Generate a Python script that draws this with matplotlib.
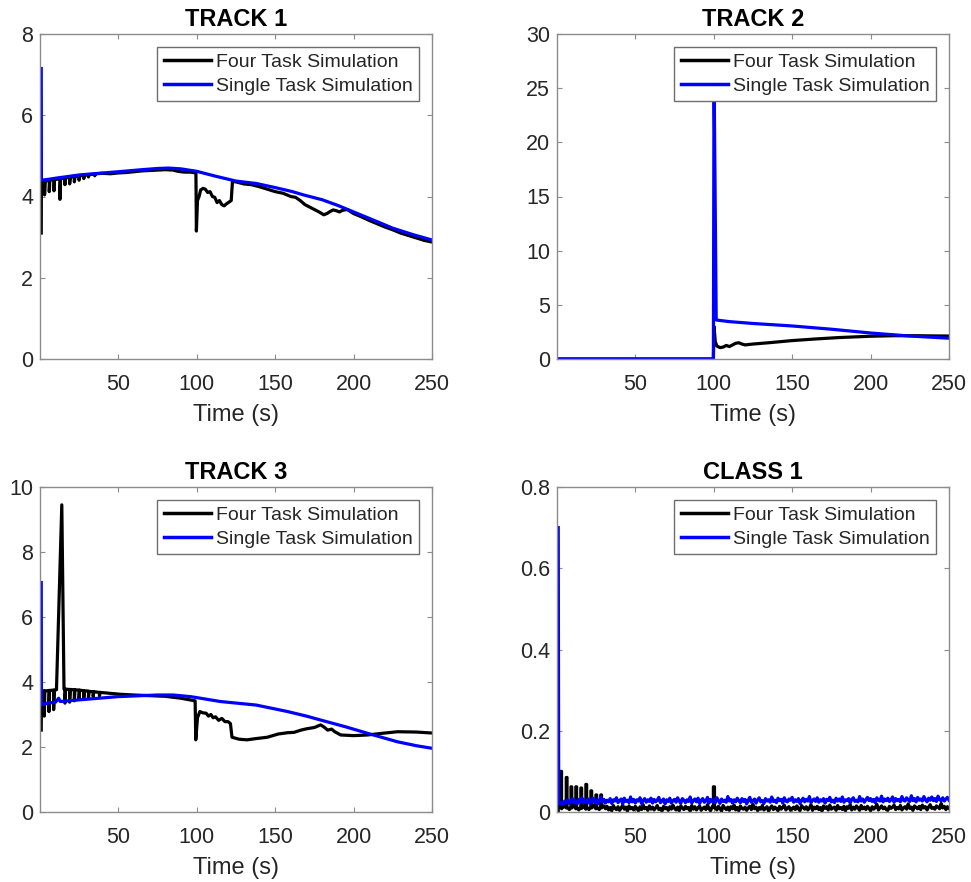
import numpy as np
import matplotlib
matplotlib.use("Agg")
import matplotlib.pyplot as plt

plt.rcParams['font.family'] = ['Liberation Sans', 'DejaVu Sans']

# ---------------- DATA ----------------
series_names = ["Four Task Simulation", "Single Task Simulation"]
titles = ["TRACK 1", "TRACK 2", "TRACK 3", "CLASS 1"]
x_ticks = [50, 100, 150, 200, 250]
y_ticks = [[0, 2, 4, 6, 8], [0, 5, 10, 15, 20, 25, 30], [0, 2, 4, 6, 8, 10], [0, 0.2, 0.4, 0.6, 0.8]]
y_ticklabels = [["0", "2", "4", "6", "8"], ["0", "5", "10", "15", "20", "25", "30"],
                ["0", "2", "4", "6", "8", "10"], ["0", "0.2", "0.4", "0.6", "0.8"]]

# TRACK 1
t1_single = [0.9, 1.0, 5, 10, 25, 50, 65, 75, 82, 90, 100, 112, 125, 138, 150, 161, 168, 180, 190, 200, 212, 225, 238, 250]
y1_single = [7.15, 4.40, 4.42, 4.45, 4.53, 4.61, 4.66, 4.69, 4.70, 4.68, 4.62, 4.50, 4.38, 4.32, 4.22, 4.12, 4.04, 3.92, 3.78, 3.62, 3.43, 3.22, 3.06, 2.93]
t1_four = [0.9, 1.0, 3.0, 3.0, 3.4, 6.0, 6.0, 6.4, 9.0, 9.0, 9.4, 12.8, 12.8, 13.2, 16, 16, 16.4, 19, 19, 19.4,
           22, 22, 22.4, 25, 25, 25.4, 28, 28, 28.4, 31, 31, 31.4, 35, 35, 35.4, 40, 45, 50, 55, 60, 65, 70, 75, 80,
           85, 88, 92, 96, 99.5, 99.8, 100.5, 101.5, 102.5, 104, 105.5, 107, 108.5, 110, 111.5, 113, 114.5, 116,
           117.5, 119, 120.5, 122, 122.8, 125, 130, 135, 140, 145, 150, 155, 160, 163, 166, 169, 172, 175, 178,
           181, 183, 185, 187, 189, 191, 193, 196, 200, 205, 210, 215, 220, 225, 230, 235, 240, 245, 250]
y1_four = [3.10, 4.35, 4.38, 4.04, 4.38, 4.40, 4.12, 4.40, 4.42, 4.14, 4.42, 4.43, 3.93, 4.44, 4.45, 4.29, 4.46, 4.47, 4.31, 4.48,
           4.48, 4.36, 4.49, 4.50, 4.40, 4.51, 4.52, 4.44, 4.53, 4.53, 4.48, 4.54, 4.55, 4.51, 4.56, 4.57, 4.56, 4.58, 4.59, 4.61, 4.63, 4.64, 4.65, 4.66,
           4.65, 4.62, 4.60, 4.60, 4.58, 3.15, 3.90, 4.00, 4.16, 4.20, 4.18, 4.10, 4.12, 4.00, 3.98, 3.85, 3.90, 3.80,
           3.77, 3.82, 3.86, 3.90, 4.37, 4.36, 4.31, 4.29, 4.24, 4.18, 4.12, 4.08, 4.00, 3.98, 3.90, 3.80, 3.74, 3.68, 3.62,
           3.55, 3.58, 3.63, 3.67, 3.65, 3.62, 3.66, 3.68, 3.58, 3.50, 3.41, 3.33, 3.25, 3.18, 3.10, 3.04, 2.98, 2.92, 2.88]

# TRACK 2
t2_single = [0.1, 99.8, 100.2, 101.6, 110, 125, 150, 175, 200, 225, 250]
y2_single = [0.0, 0.0, 27.0, 3.60, 3.45, 3.28, 3.05, 2.75, 2.40, 2.12, 1.92]
t2_four = [0.1, 99.8, 100.2, 101, 102, 104, 106, 108, 110, 112, 114, 116, 118, 120, 125, 135, 150, 165, 180, 200, 215, 230, 240, 250]
y2_four = [0.0, 0.0, 3.0, 1.60, 1.20, 1.05, 1.10, 1.25, 1.15, 1.30, 1.45, 1.50, 1.38, 1.30, 1.38, 1.50, 1.70, 1.85, 1.98, 2.10, 2.15, 2.15, 2.13, 2.12]

# TRACK 3
t3_single = [0.9, 1.0, 5, 10, 12, 13, 25, 50, 65, 75, 85, 96, 100, 115, 138, 158, 170, 179, 195, 209, 228, 240, 250]
y3_single = [7.06, 3.30, 3.35, 3.38, 3.50, 3.40, 3.45, 3.55, 3.58, 3.60, 3.60, 3.55, 3.52, 3.40, 3.29, 3.09, 2.95, 2.83, 2.62, 2.42, 2.16, 2.04, 1.96]
t3_four = [0.9, 1.0, 2.8, 2.8, 3.2, 5.8, 5.8, 6.2, 8.8, 8.8, 9.2, 10.6, 14.0, 15.4, 16, 16, 16.4, 19, 19, 19.4,
           22, 22, 22.4, 25, 25, 25.4, 28, 28, 28.4, 31, 31, 31.4, 34, 34, 34.4, 38, 38, 38.4, 45, 52, 60, 70, 80, 90,
           99, 99.4, 100.5, 102, 104, 106, 107.5, 109, 110.5, 112, 114, 116, 118, 120, 121.5, 122.5, 127, 132, 138,
           145, 152, 158, 162, 166.5, 170, 175, 179, 181, 183.5, 186, 188, 191.8, 200, 209, 218, 228, 240, 250]
y3_four = [2.52, 3.72, 3.73, 2.95, 3.72, 3.74, 3.09, 3.74, 3.75, 3.15, 3.75, 3.76, 9.45, 3.78, 3.78, 3.35, 3.78, 3.77, 3.38, 3.77,
           3.76, 3.42, 3.76, 3.75, 3.46, 3.75, 3.73, 3.50, 3.73, 3.72, 3.53, 3.71, 3.70, 3.55, 3.70, 3.68, 3.57, 3.68, 3.65, 3.62, 3.60, 3.58, 3.56, 3.50,
           3.42, 2.22, 2.90, 3.09, 3.05, 3.04, 2.95, 3.00, 2.90, 2.93, 2.82, 2.88, 2.78, 2.78, 2.72, 2.30, 2.24, 2.22, 2.26,
           2.30, 2.40, 2.44, 2.45, 2.52, 2.56, 2.60, 2.68, 2.62, 2.52, 2.55, 2.47, 2.37, 2.35, 2.37, 2.42, 2.47, 2.46, 2.43]

# CLASS 1 (values in thousandths)
c1_single_start_t = [0.9, 1.2]
c1_single_start_milli = [700, 20]
c1_single_t = list(range(2, 251))
c1_single_milli = [
    20, 24, 19, 27, 22, 30, 21, 26, 33, 23,
    28, 20, 31, 25, 35, 22, 29, 24, 32, 21,
    27, 34, 23, 30, 20, 28, 36, 24, 31, 22,
    29, 25, 33, 21, 30, 27, 35, 23, 28, 32,
    20, 34, 26, 29, 23, 37, 25, 31, 22, 30,
    27, 35, 21, 28, 33, 24, 30, 26, 34, 22,
    31, 25, 29, 36, 23, 27, 32, 20, 30, 26,
    34, 22, 28, 31, 24, 35, 27, 21, 33, 29,
    23, 30, 26, 37, 22, 28, 32, 25, 34, 21,
    29, 33, 24, 27, 36, 22, 31, 26, 30, 23,
    35, 28, 21, 32, 26, 29, 24, 38, 27, 31,
    22, 30, 25, 34, 28, 23, 33, 26, 31, 20,
    29, 36, 24, 27, 32, 22, 30, 35, 25, 28,
    21, 33, 27, 30, 24, 37, 26, 29, 23, 34,
    28, 31, 22, 35, 27, 25, 32, 29, 36, 24,
    30, 26, 33, 21, 28, 34, 25, 31, 27, 38,
    23, 29, 32, 26, 35, 24, 30, 27, 33, 22,
    31, 28, 36, 25, 29, 23, 34, 27, 32, 26,
    37, 24, 30, 28, 33, 22, 31, 35, 26, 29,
    25, 38, 27, 32, 24, 30, 36, 28, 33, 26,
    31, 23, 35, 29, 27, 39, 25, 32, 28, 34,
    26, 30, 37, 24, 33, 28, 31, 25, 38, 29,
    27, 35, 30, 26, 40, 28, 33, 25, 36, 29,
    32, 27, 38, 30, 25, 34, 29, 37, 28, 33,
    26, 39, 30, 28, 35, 27, 32, 36, 29]
c1_four_early_t = [0.9, 1.0, 1.5, 2.5, 2.5, 3.0, 3.0, 4.5, 6.0, 6.0, 6.5, 6.5, 8, 9.0, 9.0, 9.5, 9.5, 11, 12.1, 12.1,
                   12.6, 12.6, 14, 15.3, 15.3, 15.8, 15.8, 17, 18.5, 18.5, 19, 19, 20.5, 21.7, 21.7, 22.2, 22.2,
                   23.5, 24.9, 24.9, 25.4, 25.4, 27, 28, 28, 28.5, 28.5, 30]
c1_four_early_milli = [0, 50, 12, 15, 100, 100, 8, 15, 10, 85, 85, 12, 6, 14, 62, 62, 10, 16, 8, 62,
                       62, 12, 5, 13, 59, 59, 9, 15, 7, 68, 68, 12, 6, 14, 52, 52, 10,
                       16, 8, 42, 42, 12, 6, 13, 42, 42, 10, 15]
c1_four_a_t = list(range(31, 100))
c1_four_a_milli = [
    8, 14, 5, 11, 3, 16, 9, 6, 13, 4,
    10, 17, 7, 12, 2, 15, 8, 11, 5, 14,
    9, 3, 13, 6, 18, 8, 11, 4, 15, 7,
    12, 5, 10, 16, 6, 9, 2, 14, 8, 11,
    4, 13, 7, 17, 9, 5, 12, 3, 15, 10,
    6, 14, 8, 11, 2, 16, 7, 13, 5, 10,
    15, 4, 9, 12, 6, 18, 8, 3, 13]
c1_four_spike_t = [99.8, 99.8, 100.5, 100.5]
c1_four_spike_milli = [12, 62, 62, 10]
c1_four_b_t = list(range(101, 251))
c1_four_b_milli = [
    11, 5, 14, 9, 2, 16, 10, 6, 12, 4,
    13, 8, 17, 5, 11, 3, 15, 9, 7, 12,
    4, 10, 14, 6, 19, 8, 12, 3, 11, 7,
    16, 5, 9, 13, 2, 10, 15, 6, 12, 8,
    3, 14, 7, 11, 17, 5, 10, 13, 4, 9,
    12, 6, 15, 8, 3, 16, 11, 7, 13, 5,
    10, 18, 4, 12, 8, 14, 6, 11, 2, 15,
    9, 13, 5, 17, 7, 10, 12, 4, 16, 8,
    11, 6, 14, 3, 13, 9, 18, 5, 12, 7,
    15, 10, 4, 16, 8, 12, 6, 14, 9, 3,
    13, 7, 11, 19, 5, 10, 15, 8, 12, 6,
    4, 14, 9, 12, 17, 6, 11, 8, 16, 5,
    10, 13, 7, 20, 9, 12, 4, 15, 11, 8,
    14, 6, 17, 10, 13, 5, 12, 18, 9, 11,
    7, 15, 12, 8, 21, 10, 14, 6, 13, 9]

c1_four_t = c1_four_early_t + c1_four_a_t + c1_four_spike_t + c1_four_b_t
c1_four_y = [v / 1000 for v in c1_four_early_milli + c1_four_a_milli + c1_four_spike_milli + c1_four_b_milli]
c1_single_all_t = c1_single_start_t + c1_single_t
c1_single_all_y = [v / 1000 for v in c1_single_start_milli + c1_single_milli]

panels = [
    (t1_four, y1_four, t1_single, y1_single, (0, 8)),
    (t2_four, y2_four, t2_single, y2_single, (0, 30)),
    (t3_four, y3_four, t3_single, y3_single, (0, 10)),
    (c1_four_t, c1_four_y, c1_single_all_t, c1_single_all_y, (0, 0.8)),
]

# ---------------- PLOT ----------------
W, H = 971, 882
fig = plt.figure(figsize=(W / 100, H / 100), dpi=100)
rects = [
    (40, 34, 432, 359), (557, 34, 949, 359),
    (40, 487, 432, 812), (557, 487, 949, 812),
]
spine_col = '#8c8c8c'
text_col = '#262626'
for i, (tf, yf, ts, ys, ylim) in enumerate(panels):
    l, t, r, b = rects[i]
    ax = fig.add_axes([l / W, 1 - b / H, (r - l) / W, (b - t) / H])
    ax.plot(tf, yf, color='black', lw=2.3, label=series_names[0])
    ax.plot(ts, ys, color='#0000ff', lw=2.3, label=series_names[1])
    ax.set_xlim(0.1, 250)
    ax.set_ylim(*ylim)
    ax.set_xticks(x_ticks)
    ax.set_xticklabels([str(v) for v in x_ticks])
    ax.set_yticks(y_ticks[i])
    ax.set_yticklabels(y_ticklabels[i])
    for s in ax.spines.values():
        s.set_color(spine_col)
        s.set_linewidth(1.0)
    ax.tick_params(direction='in', length=3.5, width=0.8, color=spine_col,
                   labelsize=15.5, labelcolor=text_col, top=True, right=True)
    ax.tick_params(axis='x', pad=11)
    ax.tick_params(axis='y', pad=5)
    ax.set_title(titles[i], fontsize=17, fontweight='bold', pad=6, color='black')
    ax.set_xlabel("Time (s)", fontsize=17, color=text_col, labelpad=6)
    leg = ax.legend(loc='upper right', fontsize=14, frameon=True, fancybox=False,
                    borderaxespad=0.65, handlelength=2.4, handletextpad=0.25,
                    borderpad=0.35, labelspacing=0.3)
    leg.get_frame().set_edgecolor('#6e6e6e')
    leg.get_frame().set_linewidth(1.0)
    leg.get_frame().set_alpha(1.0)
    for line in leg.get_lines():
        line.set_linewidth(2.5)
    for txt in leg.get_texts():
        txt.set_color(text_col)

fig.savefig("out.png", dpi=100)
